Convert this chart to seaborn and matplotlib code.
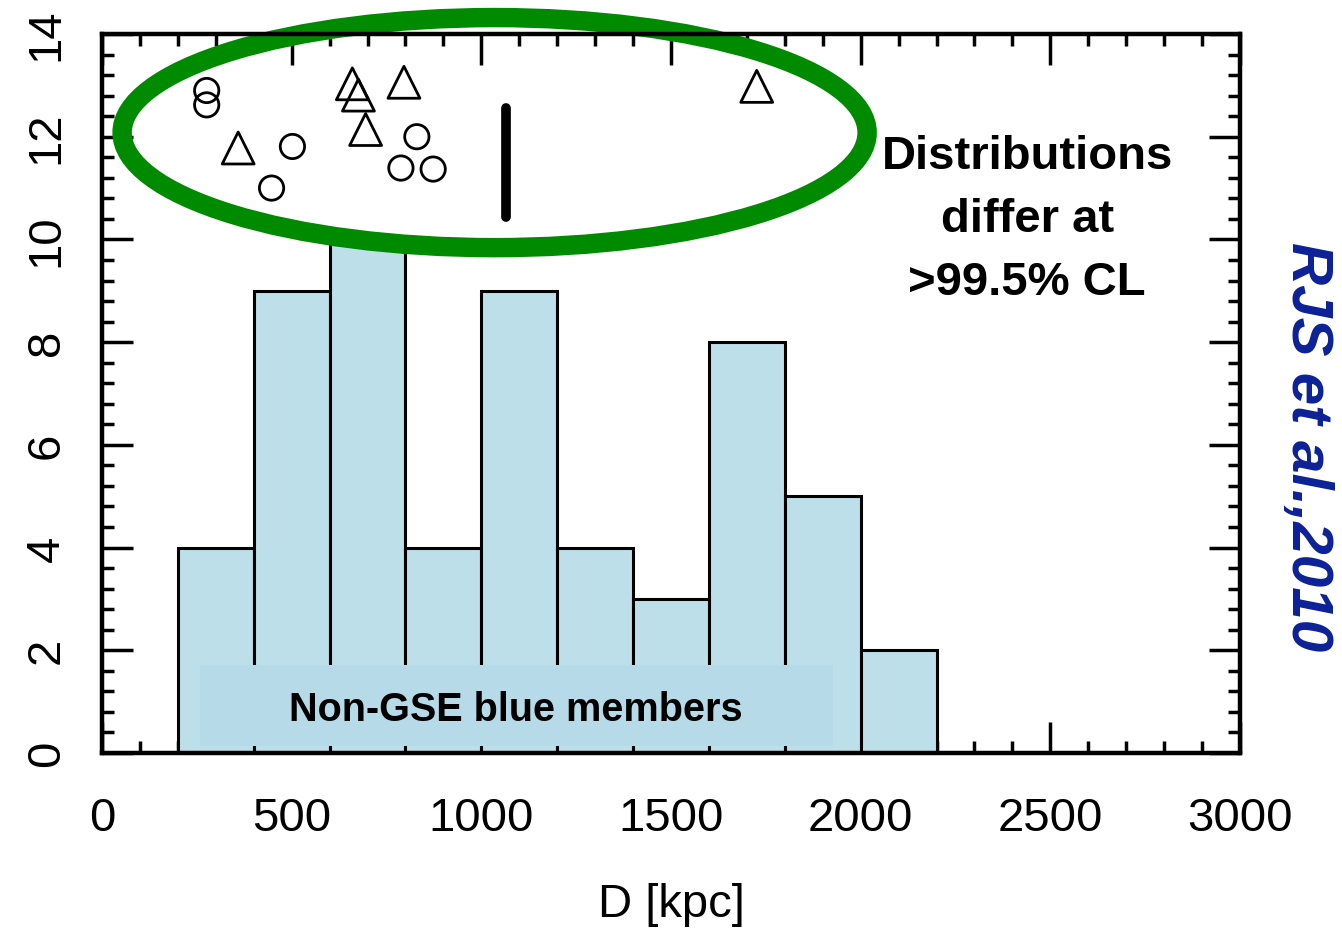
import numpy as np
import pandas as pd
import matplotlib
matplotlib.use("Agg")
import matplotlib.pyplot as plt
import seaborn as sns
from matplotlib.patches import Ellipse, Rectangle
from matplotlib.ticker import MultipleLocator

# ---- data ----
bin_edges = [200, 400, 600, 800, 1000, 1200, 1400, 1600, 1800, 2000, 2200]
bin_counts = [4, 9, 10, 4, 9, 4, 3, 8, 5, 2]

circle_x = [276, 276, 502, 447, 830, 788, 873]
circle_y = [12.90, 12.62, 11.81, 11.00, 12.00, 11.39, 11.37]

triangle_x = [359, 660, 676, 695, 796, 1726]
triangle_y = [11.78, 13.03, 12.81, 12.14, 13.06, 12.98]

mean_line_x = 1066
mean_line_y = [10.43, 12.55]

x_label = "D [kpc]"
note_text = "Distributions\ndiffer at\n>99.5% CL"
box_text = "Non-GSE blue members"
credit_text = "RJS et al.,2010"

# ---- style ----
sns.set_style("white")
plt.rcParams['font.family'] = ['Liberation Sans', 'DejaVu Sans']
plt.rcParams['text.color'] = 'black'
plt.rcParams['axes.labelcolor'] = 'black'
plt.rcParams['xtick.color'] = 'black'
plt.rcParams['ytick.color'] = 'black'

fig = plt.figure(figsize=(13.42, 9.29), dpi=100)
ax = fig.add_axes([102/1342, 1 - 754/929, (1240-102)/1342, (754-35)/929])

centers = [(a + b) / 2 for a, b in zip(bin_edges[:-1], bin_edges[1:])]
df = pd.DataFrame({"D": centers, "n": bin_counts})
sns.histplot(data=df, x="D", weights="n", bins=bin_edges, color="#bcdfe9",
             edgecolor="black", linewidth=2.2, alpha=1, ax=ax, zorder=2)

# label box
ax.add_patch(Rectangle((258, 0.14), 1927 - 258, 1.57, facecolor="#b6dae7",
                       edgecolor="none", zorder=3))
ax.text(1091, 0.86, box_text, ha="center", va="center", fontsize=28.5,
        fontweight="bold", color="black", zorder=4)

# markers
sns.scatterplot(x=circle_x, y=circle_y, marker="o", s=17.5**2, facecolor="none",
                edgecolor="black", linewidth=2.0, ax=ax, zorder=5)
sns.scatterplot(x=triangle_x, y=triangle_y, marker="^", s=23**2, facecolor="none",
                edgecolor="black", linewidth=2.0, ax=ax, zorder=5)

ax.plot([mean_line_x, mean_line_x], mean_line_y, color="black", lw=7,
        solid_capstyle="round", zorder=5)

# ellipse
ax.add_patch(Ellipse((1035, 12.08), 1964, 4.48, facecolor="none",
                     edgecolor="#008a00", lw=14, clip_on=False, zorder=6))

ax.text(2439, 10.40, note_text, ha="center", va="center", fontsize=34,
        fontweight="bold", linespacing=1.55, color="black", zorder=7)

fig.text(1307/1342, 1 - 447/929, credit_text, rotation=-90, ha="center",
         va="center", fontsize=42, fontweight="bold", style="italic",
         color="#0b2196")

# axes
ax.set_xlim(0, 3000)
ax.set_ylim(0, 14)
ax.xaxis.set_major_locator(MultipleLocator(500))
ax.xaxis.set_minor_locator(MultipleLocator(100))
ax.yaxis.set_major_locator(MultipleLocator(2))
ax.yaxis.set_minor_locator(MultipleLocator(0.4))
ax.tick_params(which="both", direction="in", top=True, right=True,
               bottom=True, left=True, width=2.5, colors="black")
ax.tick_params(which="major", length=22)
ax.tick_params(which="minor", length=8.5)
ax.tick_params(axis="x", which="major", labelsize=34, pad=31)
ax.tick_params(axis="y", which="major", labelsize=34, pad=24)
for lbl in ax.get_yticklabels():
    lbl.set_rotation(90)
    lbl.set_va("center")
ax.set_xlabel(x_label, fontsize=34, labelpad=30, color="black")
ax.set_ylabel("")
for s in ax.spines.values():
    s.set_linewidth(3.2)
    s.set_color("black")
    s.set_zorder(8)

fig.savefig("out.png", dpi=100)
